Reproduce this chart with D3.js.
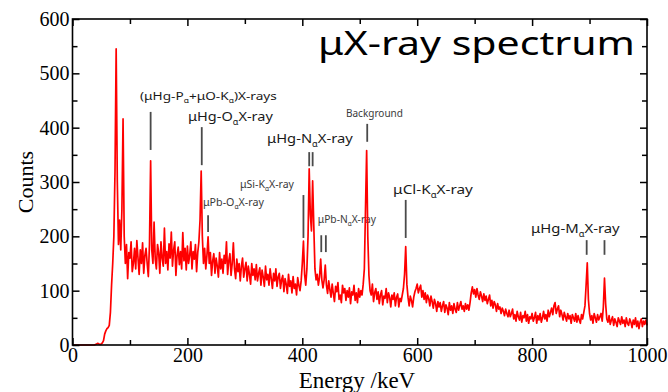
<!DOCTYPE html>
<html>
<head>
<meta charset="utf-8">
<script src="https://cdn.jsdelivr.net/npm/d3@7"></script>
<style>
  body { margin: 0; background: #fff; }
  svg { display: block; }
</style>
</head>
<body>
<svg id="chart" width="668" height="392"></svg>
<script>
// Channel width of the spectrum, keV
const channelKeV = 2;

// Counts per channel, starting at 0 keV (one row = 40 keV)
const counts = [
  0, 0, 0, 0, 0, 0, 0, 0, 0, 0, 0, 0, 0, 0, 0, 0, 0, 0, 0, 0,
  1, 2, 3, 2, 1, 2, 4, 8, 20, 26, 30, 32, 36, 60, 110, 150, 200, 320, 545, 300,
  185, 230, 175, 250, 416, 200, 150, 185, 122, 170, 160, 190, 135, 150, 178, 140, 192, 160, 130, 175,
  150, 188, 132, 165, 178, 150, 126, 185, 339, 175, 150, 226, 158, 140, 185, 170, 132, 190, 160, 145,
  215, 150, 172, 138, 186, 160, 208, 145, 175, 190, 128, 165, 180, 148, 172, 140, 207, 155, 178, 138,
  182, 150, 165, 190, 140, 172, 158, 185, 135, 170, 190, 230, 320, 200, 150, 178, 140, 165, 199, 150,
  170, 128, 155, 168, 132, 160, 145, 125, 170, 140, 158, 132, 165, 150, 190, 130, 155, 168, 128, 150,
  188, 140, 122, 158, 135, 150, 118, 145, 160, 125, 140, 152, 118, 145, 130, 112, 150, 128, 140, 120,
  148, 118, 132, 142, 110, 138, 125, 108, 145, 120, 130, 110, 140, 122, 104, 132, 118, 140, 108, 125,
  132, 104, 120, 128, 98, 122, 112, 95, 130, 108, 118, 96, 126, 104, 112, 92, 124, 110, 100, 118,
  150, 191, 130, 110, 140, 200, 324, 240, 210, 302, 220, 140, 120, 130, 110, 125, 158, 120, 105, 120,
  147, 110, 95, 118, 102, 88, 112, 95, 80, 108, 98, 115, 84, 92, 78, 110, 96, 104, 82, 100,
  88, 105, 76, 98, 92, 110, 82, 96, 78, 104, 88, 100, 92, 112, 140, 250, 358, 200, 128, 100,
  92, 112, 80, 96, 104, 84, 98, 76, 92, 100, 74, 90, 86, 104, 78, 96, 88, 70, 92, 84,
  96, 72, 88, 94, 70, 86, 80, 92, 104, 130, 181, 112, 88, 72, 90, 82, 70, 88, 98, 104,
  112, 96, 104, 110, 88, 100, 84, 96, 78, 92, 86, 72, 90, 80, 68, 84, 76, 62, 80, 70,
  78, 62, 72, 80, 60, 74, 68, 56, 78, 64, 72, 58, 76, 66, 60, 78, 64, 72, 80, 66,
  72, 62, 76, 66, 74, 64, 78, 96, 107, 94, 102, 88, 104, 92, 84, 98, 90, 80, 94, 82,
  90, 76, 84, 92, 72, 82, 68, 80, 74, 62, 76, 66, 70, 58, 68, 62, 54, 66, 58, 52,
  64, 52, 58, 66, 48, 56, 44, 62, 52, 46, 60, 42, 54, 50, 62, 44, 56, 40, 52, 48,
  58, 44, 50, 60, 40, 54, 46, 58, 42, 50, 62, 48, 56, 44, 64, 52, 60, 68, 56, 72,
  78, 58, 66, 72, 52, 64, 56, 46, 60, 52, 44, 58, 48, 54, 40, 56, 50, 44, 58, 42,
  54, 46, 40, 56, 48, 60, 72, 110, 151, 84, 58, 46, 54, 40, 58, 50, 42, 56, 46, 52,
  58, 44, 70, 123, 76, 48, 42, 54, 38, 46, 52, 36, 48, 42, 34, 50, 44, 38, 52, 40,
  46, 34, 50, 40, 36, 48, 42, 32, 46, 38, 50, 34, 44, 30, 42, 48, 34, 44, 38, 46,
  36
];

const xTickValues = [0, 200, 400, 600, 800, 1000];
const xMinorValues = [100, 300, 500, 700, 900];
const yTickValues = [0, 100, 200, 300, 400, 500, 600];
const yMinorValues = [50, 150, 250, 350, 450, 550];

// Peak labels: text pieces ([text, subscript?]), anchor in keV / counts
const peakLabels = [
  { parts: [["(μHg-P"], ["α", 1], ["+μO-K"], ["α", 1], [")X-rays"]], keV: 117.5, cnt: 451, kind: "mid" },
  { parts: [["μHg-O"], ["α", 1], ["X-ray"]], keV: 201, cnt: 412, kind: "big" },
  { parts: [["μHg-N"], ["α", 1], ["X-ray"]], keV: 338.5, cnt: 372, kind: "big" },
  { parts: [["Background"]], keV: 476, cnt: 420, kind: "small" },
  { parts: [["μSi-K"], ["α", 1], ["X-ray"]], keV: 291.5, cnt: 289, kind: "small" },
  { parts: [["μPb-O"], ["α", 1], ["X-ray"]], keV: 227, cnt: 256, kind: "small" },
  { parts: [["μPb-N"], ["α", 1], ["X-ray"]], keV: 427, cnt: 225, kind: "small" },
  { parts: [["μCl-K"], ["α", 1], ["X-ray"]], keV: 558, cnt: 278, kind: "big" },
  { parts: [["μHg-M"], ["α", 1], ["X-ray"]], keV: 798, cnt: 206, kind: "big" }
];
// Printed width of each label above, px
const labelWidths = [137, 85, 86, 57, 55, 62, 59, 80, 89];

// Peak marker strokes: energy and vertical extent in counts
const peakMarkers = [
  { keV: 136, lo: 359, hi: 429 },
  { keV: 225, lo: 331, hi: 401 },
  { keV: 236, lo: 208, hi: 239 },
  { keV: 402, lo: 197, hi: 276 },
  { keV: 412, lo: 329, hi: 355 },
  { keV: 418, lo: 329, hi: 355 },
  { keV: 433, lo: 171, hi: 202 },
  { keV: 441, lo: 171, hi: 202 },
  { keV: 513, lo: 374, hi: 407 },
  { keV: 580, lo: 197, hi: 267 },
  { keV: 895, lo: 166, hi: 193 },
  { keV: 926, lo: 166, hi: 193 }
];

const title = "μX-ray spectrum";

// ---------------------------------------------------------------
const svg = d3.select("#chart");
const plotLeft = 72.5, plotRight = 647, plotTop = 19, plotBottom = 345;
const x = d3.scaleLinear().domain([0, 1000]).range([plotLeft, plotRight]);
const y = d3.scaleLinear().domain([0, 600]).range([plotBottom, plotTop]);

const serif = "'Liberation Serif', 'Times New Roman', serif";
const sans = "'Noto Sans', 'Open Sans', sans-serif";

const labelStyle = {
  big:   { size: 13.5, fill: "#1a1a1a" },
  mid:   { size: 11.5, fill: "#1a1a1a" },
  small: { size: 10, fill: "#3a3a3a" }
};

// Stretch a text group horizontally so it spans the given width
function fitWidth(g, tx, ty, width) {
  const w = g.node().getBBox().width;
  g.attr("transform", `translate(${tx},${ty}) scale(${width / w},1)`);
}

// Title
const tg = svg.append("g");
tg.append("text")
  .attr("font-family", sans)
  .attr("font-size", 32.5)
  .attr("fill", "#000")
  .text(title);
fitWidth(tg, 318, 55, 317);

// Peak labels
peakLabels.forEach((d, i) => {
  const st = labelStyle[d.kind];
  const shift = st.size * 0.28;
  const g = svg.append("g");
  const t = g.append("text")
    .attr("font-family", sans)
    .attr("font-size", st.size)
    .attr("fill", st.fill);
  let lowered = false;
  d.parts.forEach(p => {
    const sub = !!p[1];
    const span = t.append("tspan").text(p[0]);
    if (sub) {
      span.attr("font-size", st.size * 0.62).attr("dy", lowered ? 0 : shift);
      lowered = true;
    } else {
      if (lowered) span.attr("dy", -shift);
      lowered = false;
    }
  });
  fitWidth(g, x(d.keV), y(d.cnt), labelWidths[i]);
});

// Peak markers
svg.append("g")
  .selectAll("line")
  .data(peakMarkers)
  .join("line")
  .attr("x1", d => x(d.keV)).attr("x2", d => x(d.keV))
  .attr("y1", d => y(d.hi)).attr("y2", d => y(d.lo))
  .attr("stroke", "#4a4a4a")
  .attr("stroke-width", 1.8);

// Spectrum
const spectrum = counts.map((c, i) => [i * channelKeV, c]);
svg.append("path")
  .datum(spectrum)
  .attr("fill", "none")
  .attr("stroke", "#f00")
  .attr("stroke-width", 1.7)
  .attr("stroke-linejoin", "round")
  .attr("d", d3.line().x(d => x(d[0])).y(d => y(d[1])));

// Axes with inward ticks on all four sides
function styleAxis(g) {
  g.select(".domain").remove();
  g.selectAll("line").attr("stroke", "#000").attr("stroke-width", 1.5);
  g.selectAll("text")
    .attr("font-family", serif)
    .attr("font-size", 20)
    .attr("fill", "#000");
}

svg.append("g").attr("transform", `translate(0,${plotBottom})`)
  .call(d3.axisBottom(x).tickValues(xTickValues).tickSize(-7).tickPadding(3).tickFormat(d3.format("d")))
  .call(styleAxis);
svg.append("g").attr("transform", `translate(0,${plotBottom})`)
  .call(d3.axisBottom(x).tickValues(xMinorValues).tickSize(-5).tickFormat(""))
  .call(styleAxis);
svg.append("g").attr("transform", `translate(0,${plotTop})`)
  .call(d3.axisTop(x).tickValues(xTickValues).tickSize(-7).tickFormat(""))
  .call(styleAxis);
svg.append("g").attr("transform", `translate(0,${plotTop})`)
  .call(d3.axisTop(x).tickValues(xMinorValues).tickSize(-5).tickFormat(""))
  .call(styleAxis);

svg.append("g").attr("transform", `translate(${plotLeft},0)`)
  .call(d3.axisLeft(y).tickValues(yTickValues).tickSize(-7).tickPadding(3).tickFormat(d3.format("d")))
  .call(styleAxis);
svg.append("g").attr("transform", `translate(${plotLeft},0)`)
  .call(d3.axisLeft(y).tickValues(yMinorValues).tickSize(-5).tickFormat(""))
  .call(styleAxis);
svg.append("g").attr("transform", `translate(${plotRight},0)`)
  .call(d3.axisRight(y).tickValues(yTickValues).tickSize(-7).tickFormat(""))
  .call(styleAxis);
svg.append("g").attr("transform", `translate(${plotRight},0)`)
  .call(d3.axisRight(y).tickValues(yMinorValues).tickSize(-5).tickFormat(""))
  .call(styleAxis);

// Frame
svg.append("rect")
  .attr("x", plotLeft).attr("y", plotTop)
  .attr("width", plotRight - plotLeft).attr("height", plotBottom - plotTop)
  .attr("fill", "none").attr("stroke", "#000").attr("stroke-width", 1.6);

// Axis titles
svg.append("text")
  .attr("x", 357).attr("y", 388)
  .attr("text-anchor", "middle")
  .attr("font-family", serif).attr("font-size", 23)
  .text("Energy /keV");

svg.append("text")
  .attr("transform", `translate(33,${(plotTop + plotBottom) / 2}) rotate(-90)`)
  .attr("text-anchor", "middle")
  .attr("font-family", serif).attr("font-size", 22)
  .text("Counts");
</script>
</body>
</html>
